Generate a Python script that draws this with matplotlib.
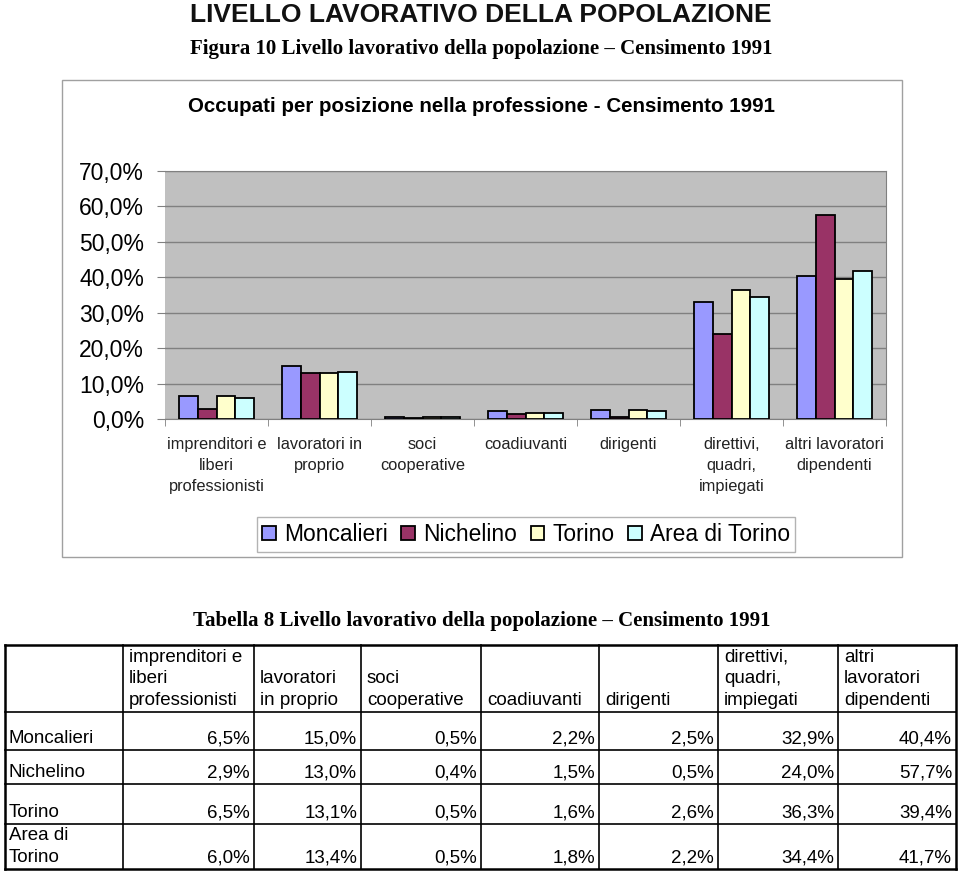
import matplotlib
matplotlib.use("Agg")
import matplotlib.pyplot as plt
import numpy as np
from matplotlib.patches import Rectangle

plt.rcParams['font.family'] = ['Liberation Sans', 'DejaVu Sans']

categories = ["imprenditori e\nliberi\nprofessionisti", "lavoratori in\nproprio",
              "soci\ncooperative", "coadiuvanti", "dirigenti",
              "direttivi,\nquadri,\nimpiegati", "altri lavoratori\ndipendenti"]
table_headers = ["imprenditori e\nliberi\nprofessionisti", "lavoratori\nin proprio",
                 "soci\ncooperative", "coadiuvanti", "dirigenti",
                 "direttivi,\nquadri,\nimpiegati", "altri\nlavoratori\ndipendenti"]
series_names = ["Moncalieri", "Nichelino", "Torino", "Area di Torino"]
row_labels = ["Moncalieri", "Nichelino", "Torino", "Area di\nTorino"]
moncalieri = [6.5, 15.0, 0.5, 2.2, 2.5, 32.9, 40.4]
nichelino = [2.9, 13.0, 0.4, 1.5, 0.5, 24.0, 57.7]
torino = [6.5, 13.1, 0.5, 1.6, 2.6, 36.3, 39.4]
area_torino = [6.0, 13.4, 0.5, 1.8, 2.2, 34.4, 41.7]
colors = ["#9999FF", "#993366", "#FFFFCC", "#CCFFFF"]
yticks = [0, 10, 20, 30, 40, 50, 60, 70]

W, H = 960, 872
fig = plt.figure(figsize=(W / 100, H / 100), dpi=100)

# overlay axes in pixel coordinates for the page texts and the table
ov = fig.add_axes([0, 0, 1, 1], zorder=0)
ov.set_xlim(0, W)
ov.set_ylim(H, 0)
ov.axis('off')

ov.text(481, 22.5, "LIVELLO LAVORATIVO DELLA POPOLAZIONE", ha='center', va='baseline',
        fontsize=19, fontweight='bold', color='#111111')
ov.text(481, 54, "Figura 10 Livello lavorativo della popolazione \u2013 Censimento 1991",
        ha='center', va='baseline', fontsize=15, fontweight='bold',
        family=['Liberation Serif', 'DejaVu Serif'])

# chart box
ov.add_patch(Rectangle((62, 80), 840, 477, fill=False, edgecolor='#a0a0a0', lw=1))
ov.text(482, 106, "Occupati per posizione nella professione - Censimento 1991",
        ha='center', va='center', fontsize=14.8, fontweight='bold')

# bar chart
ax = fig.add_axes([165 / W, 1 - 419 / H, (886 - 165) / W, (419 - 171) / H], zorder=1)
ax.set_facecolor('#C0C0C0')
x = np.arange(len(categories))
bw = 0.18
all_series = [moncalieri, nichelino, torino, area_torino]
for i, (vals, name, c) in enumerate(zip(all_series, series_names, colors)):
    ax.bar(x + (i - 1.5) * bw, vals, bw, color=c, edgecolor='black', lw=1.3,
           label=name, zorder=3)
ax.set_xlim(-0.5, len(categories) - 0.5)
ax.set_ylim(0, 70)
ax.set_yticks(yticks)
ax.set_yticklabels([f"{v:.1f}%".replace('.', ',') for v in yticks], fontsize=16.5)
ax.yaxis.grid(True, color='#808080', lw=1, zorder=1)
ax.tick_params(axis='y', length=6, color='#808080', pad=9)
ax.set_xticks(x)
ax.set_xticklabels(categories, fontsize=11.8, linespacing=1.5, color='#222222', va='top')
ax.tick_params(axis='x', length=0, pad=13)
ax.set_xticks(np.arange(len(categories) + 1) - 0.5, minor=True)
ax.tick_params(axis='x', which='minor', length=5, color='#808080')
for s in ax.spines.values():
    s.set_color('#808080')
ax.spines['left'].set_visible(False)

leg = ax.legend(loc='center', bbox_to_anchor=(526 / W, 1 - 534.5 / H),
                bbox_transform=fig.transFigure, ncol=4, fontsize=16.4,
                frameon=True, fancybox=False, edgecolor='#a0a0a0',
                handlelength=0.6, handleheight=0.6, handletextpad=0.35,
                columnspacing=0.6, borderpad=0.25, borderaxespad=0)
leg.get_frame().set_linewidth(1)

# table
ov.text(482, 626, "Tabella 8 Livello lavorativo della popolazione \u2013 Censimento 1991",
        ha='center', va='baseline', fontsize=15, fontweight='bold',
        family=['Liberation Serif', 'DejaVu Serif'])
col_edges = [5, 123, 254, 361, 481, 599, 718, 838, 956]
row_edges = [645, 712, 750, 784, 824, 869]
for xe in col_edges:
    lw = 1.8 if xe in (col_edges[0], col_edges[-1]) else 1.2
    ov.plot([xe, xe], [row_edges[0], row_edges[-1]], color='black', lw=lw)
for ye in row_edges:
    lw = 1.8 if ye in (row_edges[0], row_edges[-1]) else 1.2
    ov.plot([col_edges[0], col_edges[-1]], [ye, ye], color='black', lw=lw)

tfs = 13.5
for j, h in enumerate(table_headers):
    ov.text(col_edges[j + 1] + 6, row_edges[1] - 3, h, ha='left', va='bottom',
            fontsize=tfs, linespacing=1.35)
for r, (lab, vals) in enumerate(zip(row_labels, all_series)):
    yb = row_edges[r + 2] - 3
    ov.text(col_edges[0] + 4, yb, lab, ha='left', va='bottom', fontsize=tfs, linespacing=1.35)
    for j, v in enumerate(vals):
        ov.text(col_edges[j + 2] - 4, yb, f"{v:.1f}%".replace('.', ','), ha='right',
                va='bottom', fontsize=tfs)

fig.savefig("out.png", dpi=100)
